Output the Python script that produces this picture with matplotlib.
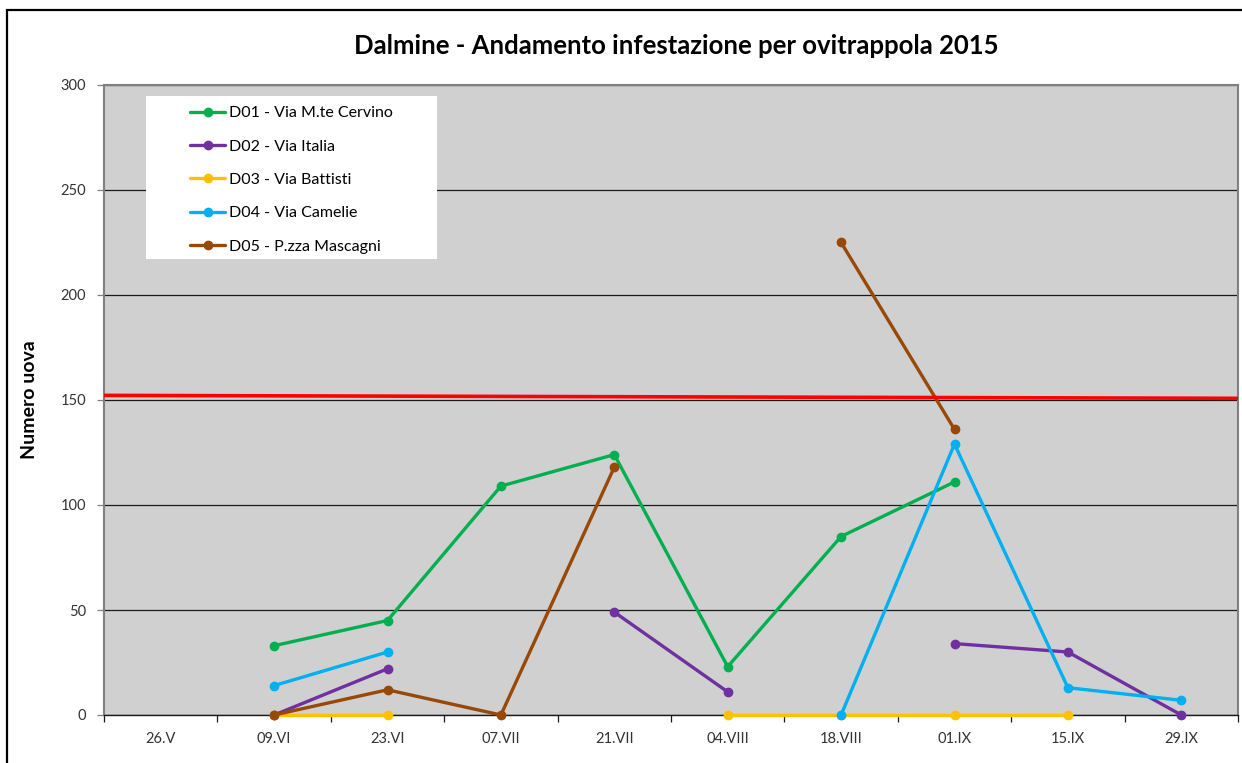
import numpy as np
import matplotlib
matplotlib.use("Agg")
import matplotlib.pyplot as plt
from matplotlib.patches import Rectangle

plt.rcParams['font.family'] = ['Lato', 'DejaVu Sans']

nan = np.nan
categories = ["26.V", "09.VI", "23.VI", "07.VII", "21.VII", "04.VIII", "18.VIII", "01.IX", "15.IX", "29.IX"]
d01 = [nan, 33, 45, 109, 124, 23, 85, 111, nan, nan]
d02 = [nan, 0, 22, nan, 49, 11, nan, 34, 30, 0]
d03 = [nan, 0, 0, nan, nan, 0, 0, 0, 0, nan]
d04 = [nan, 14, 30, nan, nan, nan, 0, 129, 13, 7]
d05 = [nan, 0, 12, 0, 118, nan, 225, 136, nan, nan]
series_labels = ["D01 - Via M.te Cervino", "D02 - Via Italia", "D03 - Via Battisti",
                 "D04 - Via Camelie", "D05 - P.zza Mascagni"]
series_colors = ["#00B050", "#7030A0", "#FFC000", "#00B0F0", "#984807"]
threshold_start, threshold_end = 152.2, 150.8
yticks = [0, 50, 100, 150, 200, 250, 300]

W, H = 1242, 763
fig = plt.figure(figsize=(W / 100, H / 100), dpi=100)
fig.patch.set_facecolor("white")
ax = fig.add_axes([104 / W, 1 - 715 / H, 1134 / W, 630 / H])
ax.set_facecolor("#D0D0D0")

x = np.arange(len(categories))
for vals, lab, col in zip([d01, d02, d03, d04, d05], series_labels, series_colors):
    ax.plot(x, vals, color=col, lw=2.4, marker='o', ms=6, label=lab, zorder=4,
            solid_capstyle='round', clip_on=False)

# threshold line across the plot
ax.plot([-0.5, len(categories) - 0.5], [threshold_start, threshold_end], color="#FF0000",
        lw=2.6, zorder=4, solid_capstyle='butt')

ax.set_xlim(-0.5, len(categories) - 0.5)
ax.set_ylim(0, 300)
ax.set_yticks(yticks)
ax.set_yticklabels([str(v) for v in yticks], fontsize=10.5, color="#333333")
ax.yaxis.grid(True, color="#1a1a1a", lw=0.9)
ax.set_axisbelow(True)
ax.tick_params(axis='y', length=5, width=0.9, color="#808080", pad=8)

ax.set_xticks(np.arange(len(categories) + 1) - 0.5)
ax.set_xticklabels([])
ax.set_xticks(x, minor=True)
ax.set_xticklabels(categories, minor=True, fontsize=10.5, color="#333333")
ax.tick_params(axis='x', which='major', length=5, width=0.9, color="#1a1a1a")
ax.tick_params(axis='x', which='minor', length=0, pad=12)

for s in ['left', 'top', 'right']:
    ax.spines[s].set_color("#808080")
    ax.spines[s].set_linewidth(1.5)
ax.spines['bottom'].set_color("#1a1a1a")
ax.spines['bottom'].set_linewidth(1.0)

ax.set_ylabel("Numero uova", fontsize=14, fontweight='bold')
ax.yaxis.set_label_coords((38 - 104) / 1134, (715 - 400) / 630)

fig.text(676 / W, 1 - 46 / H, "Dalmine - Andamento infestazione per ovitrappola 2015",
         ha='center', va='center', fontsize=18.5, fontweight='bold')

# legend box
ax.add_patch(Rectangle(((146 - 104) / 1134, (715 - 259) / 630), 291 / 1134, 163 / 630,
                       transform=ax.transAxes, facecolor='white', edgecolor='none', zorder=5))
leg = ax.legend(loc='upper left', bbox_to_anchor=((190 - 104) / 1134, (715 - 106) / 630),
                frameon=False, fontsize=11.5, handlelength=2.2, handletextpad=0.25,
                labelspacing=1.2, borderaxespad=0, borderpad=0)
leg.set_zorder(6)

# outer chart border
fig.add_artist(Rectangle((7 / W, -0.05), 1.2, 1 - 10 / H + 0.05, transform=fig.transFigure,
                         facecolor='none', edgecolor='black', lw=1.6))

fig.savefig("out.png", dpi=100)
